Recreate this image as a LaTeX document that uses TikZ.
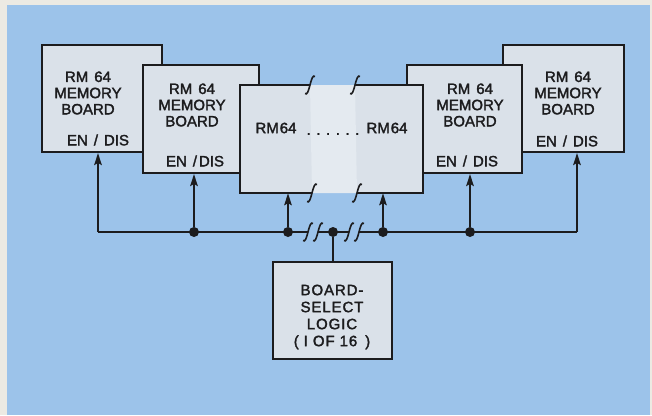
\documentclass[tikz,border=0pt]{standalone}
\usepackage{fontspec}
\setmainfont{Liberation Sans}[FakeBold=2]
\usetikzlibrary{arrows.meta}
\definecolor{frameclr}{RGB}{236,234,227}
\definecolor{bgblue}{RGB}{156,195,234}
\definecolor{boxfill}{RGB}{218,225,233}
\definecolor{gapfill}{RGB}{228,234,240}
\definecolor{ink}{RGB}{28,28,30}
\newcommand\wsp[1]{\hspace{#1pt}}
\tikzset{
  board/.style={draw=ink, line width=2pt, fill=boxfill, inner sep=0pt, anchor=north west},
  txt/.style={font=\fontsize{15}{16.2}\selectfont, text=ink, inner sep=0pt, align=center},
  wire/.style={draw=ink, line width=2pt},
  arr/.style={wire, -{Stealth[length=12pt,width=7.5pt,inset=2pt]}},
  jdot/.style={circle, fill=ink, inner sep=0pt, minimum size=10pt},
  brk/.pic={\draw[ink, line width=1.6pt] (-5,8.5) .. controls (-3,10.5) and (-1.5,6) .. (0,0) .. controls (1.5,-6) and (3,-10.5) .. (5,-8.5);}
}
\begin{document}
\begin{tikzpicture}[x=1pt,y=-1pt]
\useasboundingbox (0,0) rectangle (652,415);
\fill[frameclr] (0,0) rectangle (652,415);
\fill[bgblue] (7,5) rectangle (650,415);

% memory boards, back to front
\node[board, minimum width=120pt, minimum height=107pt] (m1) at (41,44) {};
\node[board, minimum width=121pt, minimum height=107pt] (m5) at (502,44) {};
\node[board, minimum width=116pt, minimum height=108pt] (m2) at (142,64) {};
\node[board, minimum width=115pt, minimum height=108pt] (m4) at (406,64) {};

% centre board with breaks
\fill[boxfill] (240,85) rectangle (423,193);
\fill[gapfill] (310,85) -- (355,85) -- (357,193) -- (312,193) -- cycle;
\coordinate (ctl) at (240,85);
\coordinate (cbr) at (423,193);
\draw[wire] (310,85) -- (ctl) -- (240,193) -- (312,193);
\draw[wire] (355,85) -- (423,85) -- (cbr) -- (357,193);
\pic at (310,85) {brk};
\pic at (355,85) {brk};
\pic at (312,193) {brk};
\pic at (357,193) {brk};
\node[inner sep=0pt, minimum width=183pt, minimum height=108pt] (mc) at (331.5,139) {};

% texts
\node[txt] at (88,93) {RM\wsp{6}64\\MEMORY\\BOARD};
\node[txt] at (98,140) {EN\wsp{6}/\wsp{6}DIS};
\node[txt] at (192,105) {RM\wsp{6}64\\MEMORY\\BOARD};
\node[txt] at (195,161) {EN\wsp{6}/\wsp{2}DIS};
\node[txt] at (276,128) {RM\wsp{1}64};
\node[txt] at (387,128) {RM\wsp{1}64};
\node[txt] at (333,134) {. . . . . .};
\node[txt] at (470,105) {RM\wsp{6}64\\MEMORY\\BOARD};
\node[txt] at (467,161) {EN\wsp{6}/\wsp{6}DIS};
\node[txt] at (568,93) {RM\wsp{6}64\\MEMORY\\BOARD};
\node[txt] at (567,141) {EN\wsp{6}/\wsp{6}DIS};

% board select logic
\node[board, minimum width=119pt, minimum height=97pt] (bs) at (272,261) {};
\node[txt, font=\fontsize{15}{17}\selectfont\addfontfeature{LetterSpace=6}] at (332,317) {BOARD-\\SELECT\\LOGIC\\(\wsp{5}I\wsp{5}OF\wsp{5}16\wsp{8})};

% bus
\coordinate (c1) at (98,232);
\coordinate (c6) at (577,232);
\node[jdot] (d2) at (194,232) {};
\node[jdot] (d3) at (288,232) {};
\node[jdot] (dc) at (333,232) {};
\node[jdot] (d4) at (383,232) {};
\node[jdot] (d5) at (470,232) {};
\coordinate (ba) at (308,232);
\coordinate (bb) at (318,232);
\coordinate (bc) at (349,232);
\coordinate (bd) at (359,232);
\draw[wire] (c1) -- (ba);
\draw[wire] (bb) -- (bc);
\draw[wire] (bd) -- (c6);
\pic at (ba) {brk};
\pic at (bb) {brk};
\pic at (bc) {brk};
\pic at (bd) {brk};

% arrows
\draw[arr] (c1) -- (m1.south -| c1);
\draw[arr] (d2) -- (m2.south -| d2);
\draw[arr] (d3) -- (mc.south -| d3);
\draw[arr] (d4) -- (mc.south -| d4);
\draw[arr] (d5) -- (m4.south -| d5);
\draw[arr] (c6) -- (m5.south -| c6);
\draw[wire] (dc) -- (bs.north -| dc);
\end{tikzpicture}
\end{document}
